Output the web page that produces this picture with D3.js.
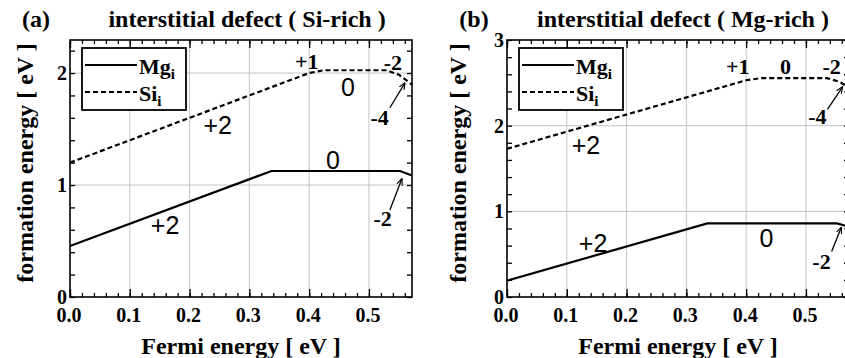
<!DOCTYPE html>
<html><head><meta charset="utf-8">
<script src="https://cdn.jsdelivr.net/npm/d3@7"></script>
<style>
body{margin:0;background:#fff}
svg{display:block;background:#fff}
.serif{font-family:"Liberation Serif","Times New Roman",serif;font-weight:bold}
.sans{font-family:"Liberation Sans",Arial,sans-serif}
</style></head><body>
<svg id="chart" width="845" height="358"></svg>
<script>
// Fermi-level axis (band gap range)
const fermiMax = 0.572;
const fermiTicks = [0, 0.1, 0.2, 0.3, 0.4, 0.5];
const fermiTickLabels = ["0.0", "0.1", "0.2", "0.3", "0.4", "0.5"];

// Panel (a): Si-rich condition
const siRichMgFermi  = [0, 0.337, 0.552, 0.572];
const siRichMgEnergy = [0.455, 1.125, 1.125, 1.085];
const siRichSiFermi  = [0, 0.40, 0.425, 0.530, 0.550, 0.572];
const siRichSiEnergy = [1.20, 2.00, 2.025, 2.025, 1.985, 1.897];
const siRichYTicks = [0, 1, 2];

// Panel (b): Mg-rich condition
const mgRichMgFermi  = [0, 0.335, 0.552, 0.572];
const mgRichMgEnergy = [0.19, 0.86, 0.86, 0.82];
const mgRichSiFermi  = [0, 0.40, 0.425, 0.535, 0.555, 0.572];
const mgRichSiEnergy = [1.73, 2.53, 2.555, 2.555, 2.515, 2.447];
const mgRichYTicks = [0, 1, 2, 3];

// Charge-state labels: text, Fermi energy, formation energy, font
const siRichLabels = [
  ["+1", 0.396, 2.10, "serif"], ["-2", 0.540, 2.09, "serif"],
  ["0", 0.465, 1.875, "sans"], ["-4", 0.518, 1.60, "serif"],
  ["+2", 0.247, 1.536, "sans"],
  ["0", 0.440, 1.223, "sans"], ["-2", 0.523, 0.705, "serif"],
  ["+2", 0.159, 0.643, "sans"]
];
const siRichArrows = [[0.535, 1.69, 0.560, 1.91], [0.535, 0.777, 0.555, 1.054]];

const mgRichLabels = [
  ["+1", 0.386, 2.685, "serif"], ["0", 0.466, 2.696, "serif"],
  ["-2", 0.543, 2.696, "serif"], ["-4", 0.519, 2.11, "serif"],
  ["+2", 0.132, 1.78, "sans"],
  ["+2", 0.144, 0.633, "sans"], ["0", 0.434, 0.69, "sans"],
  ["-2", 0.526, 0.41, "serif"]
];
const mgRichArrows = [[0.536, 2.19, 0.561, 2.45], [0.543, 0.53, 0.559, 0.81]];

const svg = d3.select("#chart");

svg.append("defs").append("marker")
  .attr("id", "head").attr("viewBox", "0 0 10 10")
  .attr("refX", 9).attr("refY", 5)
  .attr("markerWidth", 7).attr("markerHeight", 7)
  .attr("markerUnits", "userSpaceOnUse")
  .attr("orient", "auto")
  .append("path").attr("d", "M0,1 L10,5 L0,9")
  .attr("fill", "none").attr("stroke", "#000").attr("stroke-width", 1.6);

function drawPanel(p) {
  const x = d3.scaleLinear().domain([0, fermiMax]).range([p.left, p.left + 342]);
  const y = d3.scaleLinear().domain([0, p.yMax]).range([297, 40]);
  const g = svg.append("g");
  const [x0, x1] = x.range(), [y0, y1] = y.range();

  // grid
  g.selectAll(".gx").data(fermiTicks.slice(1)).join("line")
    .attr("x1", d => x(d)).attr("x2", d => x(d)).attr("y1", y0).attr("y2", y1)
    .attr("stroke", "#c4c4c4").attr("stroke-width", 1);
  g.selectAll(".gy").data(p.yTicks.filter(d => d > 0 && d < p.yMax)).join("line")
    .attr("x1", x0).attr("x2", x1).attr("y1", d => y(d)).attr("y2", d => y(d))
    .attr("stroke", "#c4c4c4").attr("stroke-width", 1);

  // inward ticks on all four sides
  const xMinor = d3.range(0, fermiMax, 0.02);
  const yMinor = d3.range(0, p.yMax + 1e-9, 0.2);
  const tickStyle = sel => { sel.select(".domain").remove(); sel.selectAll("line").attr("stroke-width", 1.3); sel.selectAll("text").remove(); };
  g.append("g").attr("transform", `translate(0,${y0})`).call(d3.axisBottom(x).tickValues(xMinor).tickSize(-4)).call(tickStyle);
  g.append("g").attr("transform", `translate(0,${y0})`).call(d3.axisBottom(x).tickValues(fermiTicks).tickSize(-8)).call(tickStyle);
  g.append("g").attr("transform", `translate(0,${y1})`).call(d3.axisTop(x).tickValues(xMinor).tickSize(-4)).call(tickStyle);
  g.append("g").attr("transform", `translate(0,${y1})`).call(d3.axisTop(x).tickValues(fermiTicks).tickSize(-8)).call(tickStyle);
  g.append("g").attr("transform", `translate(${x0},0)`).call(d3.axisLeft(y).tickValues(yMinor).tickSize(-5)).call(tickStyle);
  g.append("g").attr("transform", `translate(${x1},0)`).call(d3.axisRight(y).tickValues(yMinor).tickSize(-5)).call(tickStyle);

  // frame
  g.append("rect").attr("x", x0).attr("y", y1).attr("width", x1 - x0).attr("height", y0 - y1)
    .attr("fill", "none").attr("stroke", "#000").attr("stroke-width", 1.6);

  // tick labels
  g.selectAll(".xl").data(fermiTicks).join("text").attr("class", "serif")
    .attr("x", d => x(d) - 1).attr("y", 322).attr("text-anchor", "middle")
    .attr("font-size", 20).text((d, i) => fermiTickLabels[i]);
  g.selectAll(".yl").data(p.yTicks).join("text").attr("class", "serif")
    .attr("x", x0 - 3).attr("y", d => y(d) + 7).attr("text-anchor", "end")
    .attr("font-size", 20).text(d => d);

  // axis titles
  g.append("text").attr("class", "serif").attr("font-size", 24)
    .attr("x", (x0 + x1) / 2).attr("y", 354).attr("text-anchor", "middle")
    .text("Fermi energy [ eV ]");
  g.append("text").attr("class", "serif").attr("font-size", 24)
    .attr("transform", `translate(${p.ylabX},163) rotate(-90)`).attr("text-anchor", "middle")
    .text("formation energy [ eV ]");

  // panel titles
  g.append("text").attr("class", "serif").attr("font-size", 24)
    .attr("x", p.tagX).attr("y", 27).attr("text-anchor", "middle").text(p.tag);
  g.append("text").attr("class", "serif").attr("font-size", 24)
    .attr("x", p.titleX).attr("y", 27).attr("text-anchor", "middle").text(p.title);

  // defect curves
  const line = d3.line().x(d => x(d[0])).y(d => y(d[1]));
  g.append("path").datum(d3.zip(p.mgF, p.mgE)).attr("d", line)
    .attr("fill", "none").attr("stroke", "#000").attr("stroke-width", 2.2);
  g.append("path").datum(d3.zip(p.siF, p.siE)).attr("d", line)
    .attr("fill", "none").attr("stroke", "#000").attr("stroke-width", 2.2)
    .attr("stroke-dasharray", "5,3");

  // charge-state labels
  g.selectAll(".cl").data(p.labels).join("text")
    .attr("class", d => d[3])
    .attr("font-size", d => d[3] === "sans" ? 25 : 22)
    .attr("x", d => x(d[1])).attr("y", d => y(d[2]))
    .attr("text-anchor", "middle").attr("dominant-baseline", "central")
    .text(d => d[0]);
  g.selectAll(".ar").data(p.arrows).join("line")
    .attr("x1", d => x(d[0])).attr("y1", d => y(d[1]))
    .attr("x2", d => x(d[2])).attr("y2", d => y(d[3]))
    .attr("stroke", "#000").attr("stroke-width", 1.3)
    .attr("marker-end", "url(#head)");

  // legend
  const lx = x0 + 12, ly = 48;
  g.append("rect").attr("x", lx).attr("y", ly).attr("width", 104).attr("height", 62)
    .attr("fill", "#fff").attr("stroke", "#000").attr("stroke-width", 1.8);
  [["Mg", 65, null], ["Si", 92, "5,3"]].forEach(([name, ry, dash]) => {
    g.append("line").attr("x1", lx + 3).attr("x2", lx + 55).attr("y1", ry).attr("y2", ry)
      .attr("stroke", "#000").attr("stroke-width", 2).attr("stroke-dasharray", dash);
    const t = g.append("text").attr("class", "serif").attr("font-size", 22)
      .attr("x", lx + 57).attr("y", ry + 9);
    t.append("tspan").text(name);
    t.append("tspan").attr("font-size", 15).attr("dy", 5).text("i");
  });
}

drawPanel({
  left: 70, yMax: 2.295, yTicks: siRichYTicks, ylabX: 33,
  tag: "(a)", tagX: 36, title: "interstitial defect ( Si-rich )", titleX: 247,
  mgF: siRichMgFermi, mgE: siRichMgEnergy, siF: siRichSiFermi, siE: siRichSiEnergy,
  labels: siRichLabels, arrows: siRichArrows
});
drawPanel({
  left: 507, yMax: 3, yTicks: mgRichYTicks, ylabX: 466,
  tag: "(b)", tagX: 474, title: "interstitial defect ( Mg-rich )", titleX: 683,
  mgF: mgRichMgFermi, mgE: mgRichMgEnergy, siF: mgRichSiFermi, siE: mgRichSiEnergy,
  labels: mgRichLabels, arrows: mgRichArrows
});
</script>
</body></html>
